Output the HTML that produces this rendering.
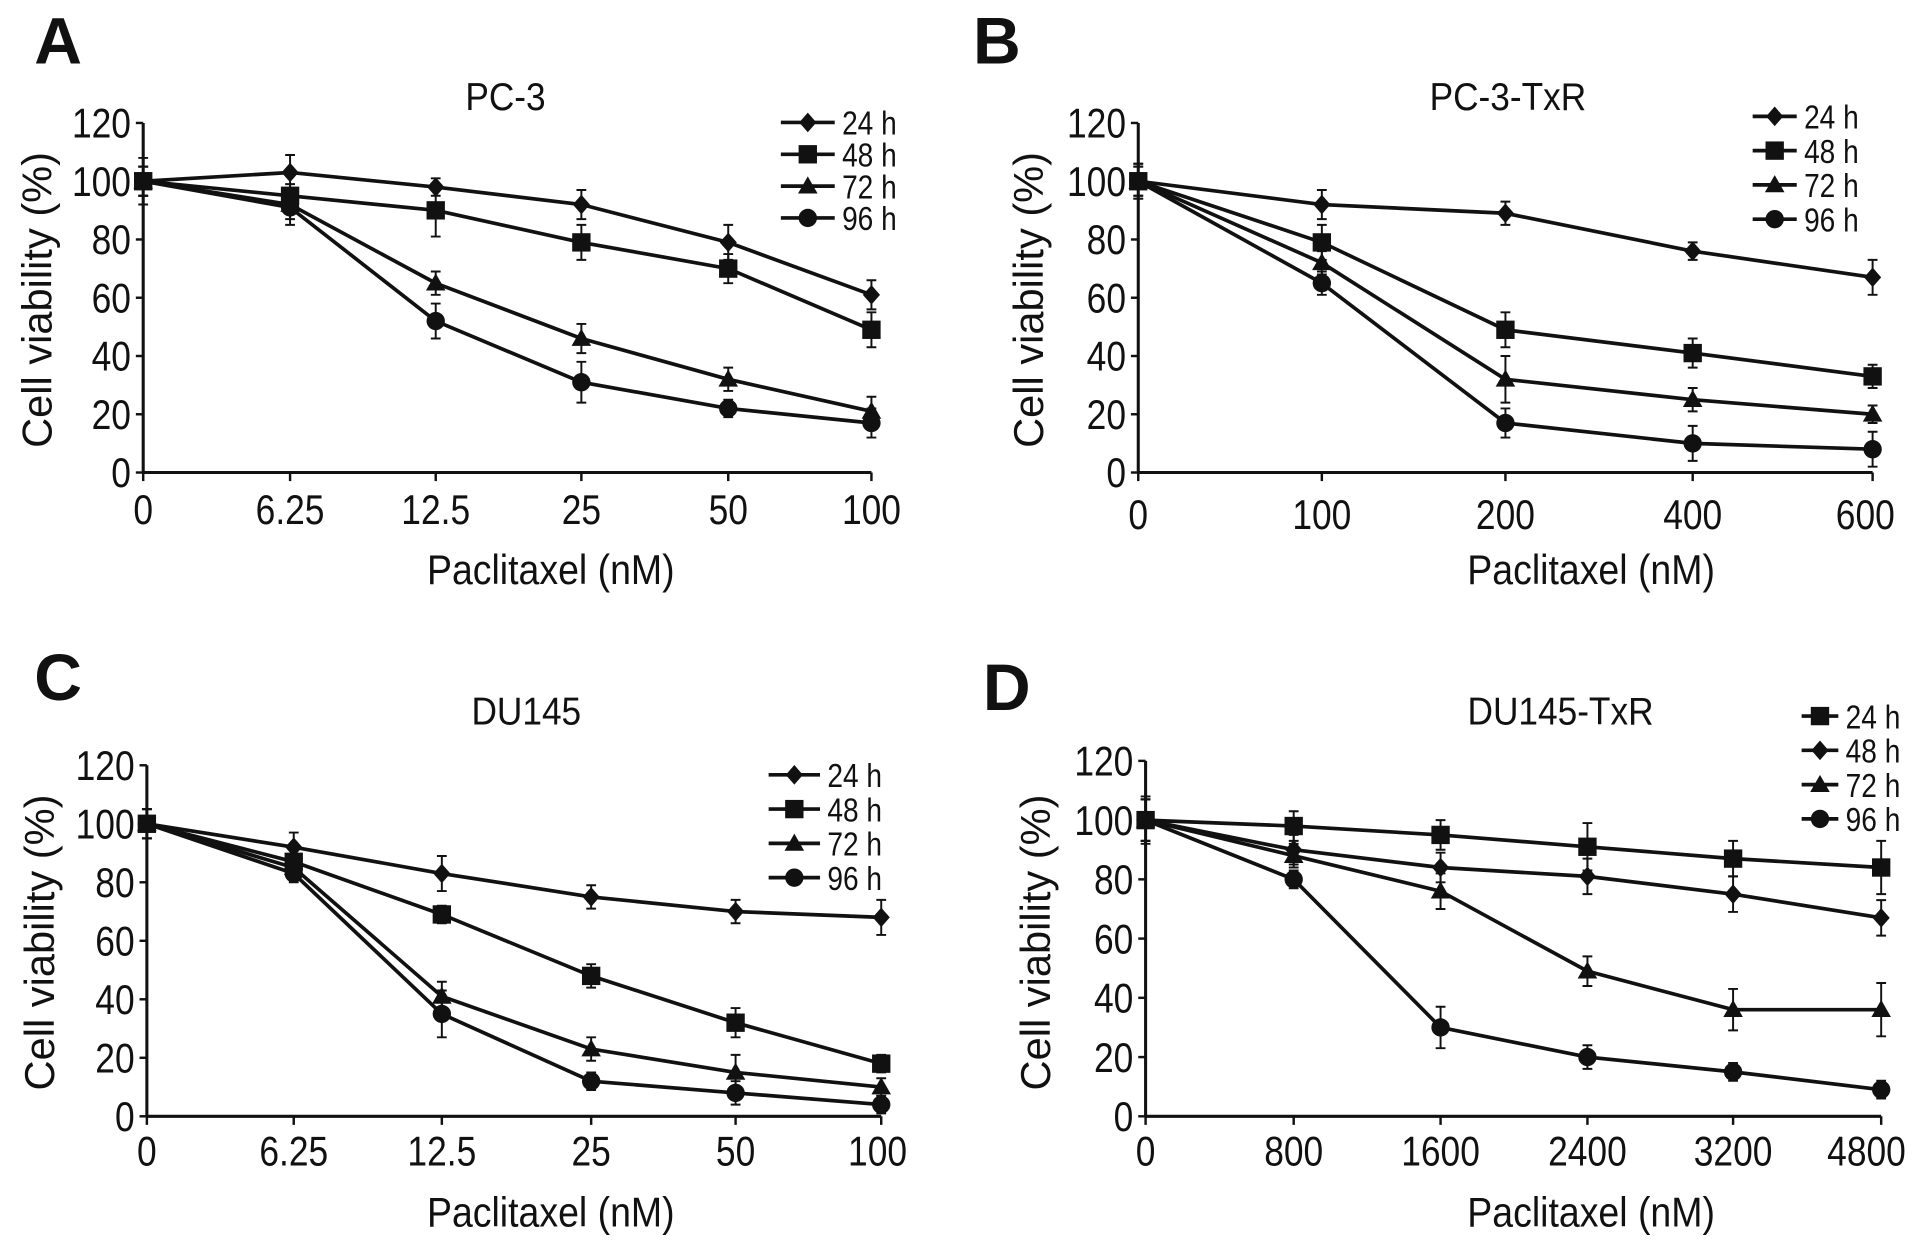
<!DOCTYPE html>
<html><head><meta charset="utf-8"><style>
html,body{margin:0;padding:0;background:#fff;}
svg{display:block;}
text{font-family:"Liberation Sans",Arial,sans-serif;fill:#111;}
</style></head><body>
<svg id="fig" width="1913" height="1240" viewBox="0 0 1563 1013" xmlns="http://www.w3.org/2000/svg"></svg>
<script>
// ---- Panel A data (PC-3) ----
const catsA = ["0","6.25","12.5","25","50","100"];
const a24 = [100,103,98,92,79,61];
const a48 = [100,95,90,79,70,49];
const a72 = [100,92,65,46,32,21];
const a96 = [100,91,52,31,22,17];
const eA24 = [8,6,3,5,6,5];
const eA48 = [5,4,9,6,5,6];
const eA72 = [5,5,4,5,4,5];
const eA96 = [5,6,6,7,3,5];
// ---- Panel B data (PC-3-TxR) ----
const catsB = ["0","100","200","400","600"];
const b24 = [100,92,89,76,67];
const b48 = [100,79,49,41,33];
const b72 = [100,72,32,25,20];
const b96 = [100,65,17,10,8];
const eB24 = [6,5,4,3,6];
const eB48 = [6,6,6,5,4];
const eB72 = [5,4,8,4,3];
const eB96 = [5,4,5,6,6];
// ---- Panel C data (DU145) ----
const catsC = ["0","6.25","12.5","25","50","100"];
const c24 = [100,92,83,75,70,68];
const c48 = [100,87,69,48,32,18];
const c72 = [100,85,41,23,15,10];
const c96 = [100,83,35,12,8,4];
const eC24 = [5,5,6,4,4,6];
const eC48 = [5,4,3,4,5,3];
const eC72 = [5,4,5,4,6,3];
const eC96 = [5,3,8,3,4,3];
// ---- Panel D data (DU145-TxR) ----
const catsD = ["0","800","1600","2400","3200","4800"];
const d24 = [100,98,95,91,87,84];
const d48 = [100,90,84,81,75,67];
const d72 = [100,88,76,49,36,36];
const d96 = [100,80,30,20,15,9];
const eD24 = [8,5,5,8,6,9];
const eD48 = [7,5,5,6,6,6];
const eD72 = [7,4,6,5,7,9];
const eD96 = [7,3,7,4,3,3];
const yTicks = [0,20,40,60,80,100,120];

const NS = "http://www.w3.org/2000/svg";
const svg = document.getElementById('fig');
function mk(tag, attrs, parent){
  const e = document.createElementNS(NS, tag);
  for (const k in attrs) e.setAttribute(k, attrs[k]);
  (parent||svg).appendChild(e);
  return e;
}
function txt(parent, x, y, s, size, anchor, name, sx, weight){
  const t = mk('text', {x:0, y:0, 'font-size':size, 'text-anchor':anchor||'middle',
    transform:`translate(${x},${y}) scale(${sx||0.85},1)`}, parent);
  if (weight) t.setAttribute('font-weight', weight);
  t.textContent = s;
  
  
  return t;
}
function marker(g, shape, x, y, name){
  let m;
  if (shape==='diamond') m = mk('polygon',{points:`${x},${y-8} ${x+7},${y} ${x},${y+8} ${x-7},${y}`,fill:'#111'},g);
  else if (shape==='square') m = mk('rect',{x:x-7.5,y:y-7.5,width:15,height:15,fill:'#111'},g);
  else if (shape==='triangle') m = mk('polygon',{points:`${x},${y-8} ${x+8},${y+6} ${x-8},${y+6}`,fill:'#111'},g);
  else m = mk('circle',{cx:x,cy:y,r:7.5,fill:'#111'},g);
  
  
}
function panel(cfg){
  const g = mk('g', {});
  
  
  const yS = v => cfg.y0 - v*(cfg.y0-cfg.y100)/100;
  const xS = i => cfg.xs[i];
  txt(g, cfg.lx, cfg.ly, cfg.letter, 54, 'start', 'panel-letter', 1, 'bold');
  txt(g, cfg.tx, cfg.ty, cfg.title, 32, 'middle', 'chart-title', 0.9);
  const ya = mk('line',{x1:cfg.xs[0],y1:cfg.y0,x2:cfg.xs[0],y2:yS(120),stroke:'#111','stroke-width':2.5},g);
   
  const xa = mk('line',{x1:cfg.xs[0],y1:cfg.y0,x2:cfg.xs[cfg.xs.length-1],y2:cfg.y0,stroke:'#111','stroke-width':2.5},g);
   
  yTicks.forEach(v=>{
    const y = yS(v);
    const tk = mk('line',{x1:cfg.xs[0]-6,y1:y,x2:cfg.xs[0],y2:y,stroke:'#111','stroke-width':2},g);
     
    txt(g, cfg.xs[0]-10, y+12, String(v), 34, 'end', 'y-tick-label');
  });
  cfg.cats.forEach((c,i)=>{
    const tk = mk('line',{x1:xS(i),y1:cfg.y0,x2:xS(i),y2:cfg.y0+7,stroke:'#111','stroke-width':2},g);
     
    const off = (i===cfg.cats.length-1) ? (cfg.lastOff||0) : 0;
    txt(g, xS(i)+off, cfg.xly, c, 34, 'middle', 'x-tick-label');
  });
  const yt = mk('text',{x:0,y:0,'font-size':34,'text-anchor':'middle',
    transform:`translate(${cfg.ytx},${cfg.yty}) rotate(-90)`},g);
  yt.textContent = 'Cell viability (%)';
   
  txt(g, cfg.xtx, cfg.xty, 'Paclitaxel (nM)', 34, 'middle', 'x-axis-title', 0.9);
  cfg.series.forEach(s=>{
    const sg = mk('g',{},g);
    
    
    const pts = s.vals.map((v,i)=>`${xS(i)},${yS(v)}`).join(' ');
    const pl = mk('polyline',{points:pts,fill:'none',stroke:'#111','stroke-width':3},sg);
     
    s.vals.forEach((v,i)=>{
      const x = xS(i), y1 = yS(v+s.err[i]), y2 = yS(v-s.err[i]);
      const eb = mk('path',{d:`M${x},${y1}V${y2}M${x-4},${y1}H${x+4}M${x-4},${y2}H${x+4}`,stroke:'#111','stroke-width':1.6,fill:'none'},sg);
       
      marker(sg, s.shape, x, yS(v), 'point');
    });
  });
  cfg.series.forEach((s,i)=>{
    const lg = mk('g',{},g);
    
    
    const y = cfg.legY + i*cfg.legDy;
    mk('line',{x1:cfg.legX,y1:y,x2:cfg.legX+cfg.legW,y2:y,stroke:'#111','stroke-width':3},lg);
    marker(lg, s.shape, cfg.legX+cfg.legW/2, y, 'legend-marker');
    txt(lg, cfg.legX+cfg.legW+6, y+10, s.label, 27, 'start', 'legend-label');
  });
}
panel({id:'panel-a',letter:'A',lx:28,ly:52,title:'PC-3',tx:413,ty:90,cats:catsA,
  xs:[117,237,356,475,595,712],y0:386,y100:148,xly:428,ytx:42,yty:245,xtx:450,xty:477,
  legX:638,legW:44,legY:100,legDy:26,
  series:[{label:'24 h',shape:'diamond',vals:a24,err:eA24},{label:'48 h',shape:'square',vals:a48,err:eA48},
          {label:'72 h',shape:'triangle',vals:a72,err:eA72},{label:'96 h',shape:'circle',vals:a96,err:eA96}]});
panel({id:'panel-b',letter:'B',lx:795,ly:52,title:'PC-3-TxR',tx:1232,ty:90,cats:catsB,
  xs:[930,1080,1230,1383,1530],y0:386,y100:148,xly:432,ytx:852,yty:245,xtx:1300,xty:477,
  legX:1432,legW:36,legY:95,legDy:28,lastOff:-6,
  series:[{label:'24 h',shape:'diamond',vals:b24,err:eB24},{label:'48 h',shape:'square',vals:b48,err:eB48},
          {label:'72 h',shape:'triangle',vals:b72,err:eB72},{label:'96 h',shape:'circle',vals:b96,err:eB96}]});
panel({id:'panel-c',letter:'C',lx:28,ly:572,title:'DU145',tx:430,ty:592,cats:catsC,
  xs:[120,240,361,483,601,720],y0:912,y100:673,xly:952,ytx:44,yty:770,xtx:450,xty:1002,
  legX:628,legW:42,legY:633,legDy:28,lastOff:-3,
  series:[{label:'24 h',shape:'diamond',vals:c24,err:eC24},{label:'48 h',shape:'square',vals:c48,err:eC48},
          {label:'72 h',shape:'triangle',vals:c72,err:eC72},{label:'96 h',shape:'circle',vals:c96,err:eC96}]});
panel({id:'panel-d',letter:'D',lx:803,ly:580,title:'DU145-TxR',tx:1275,ty:592,cats:catsD,
  xs:[936,1057,1177,1297,1416,1537],y0:912,y100:670,xly:952,ytx:858,yty:770,xtx:1300,xty:1002,
  legX:1472,legW:30,legY:585,legDy:28,lastOff:-12,
  series:[{label:'24 h',shape:'square',vals:d24,err:eD24},{label:'48 h',shape:'diamond',vals:d48,err:eD48},
          {label:'72 h',shape:'triangle',vals:d72,err:eD72},{label:'96 h',shape:'circle',vals:d96,err:eD96}]});
</script>
</body></html>
